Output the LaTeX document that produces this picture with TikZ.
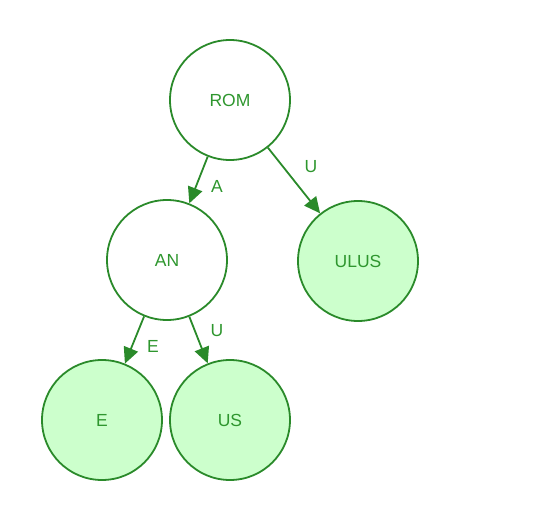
\documentclass[tikz,border=0pt]{standalone}
\usepackage{fontspec}
\setmainfont{Liberation Sans}
\usetikzlibrary{arrows.meta}
\definecolor{strokeg}{HTML}{2A8A2A}
\definecolor{textg}{HTML}{2E962E}
\definecolor{fillg}{HTML}{CCFFCC}
\begin{document}
\begin{tikzpicture}[x=1pt,y=-1pt,
  state/.style={circle,draw=strokeg,line width=1.8pt,minimum size=120pt,inner sep=0pt,text=textg,font=\fontsize{17.5}{20}\selectfont},
  final/.style={state,fill=fillg},
  edge/.style={draw=strokeg,line width=1.8pt,-{Triangle[length=16pt,width=15pt]}},
  elabel/.style={text=textg,font=\fontsize{17.5}{20}\selectfont,inner sep=0pt}]
\useasboundingbox (0,0) rectangle (541,525);
\node[state] (rom) at (230,100) {ROM};
\node[state] (an) at (167,260) {AN};
\node[final] (ulus) at (358,261) {ULUS};
\node[final] (e) at (102,420) {E};
\node[final] (us) at (230,420) {US};
\draw[edge] (rom) -- (an);
\draw[edge] (rom) -- (ulus);
\draw[edge] (an) -- (e);
\draw[edge] (an) -- (us);
\node[elabel] (la) at (217,186) {A};
\node[elabel] (lu1) at (311,167) {U};
\node[elabel] (le) at (153,346) {E};
\node[elabel] (lu2) at (217,331) {U};
\end{tikzpicture}
\end{document}
